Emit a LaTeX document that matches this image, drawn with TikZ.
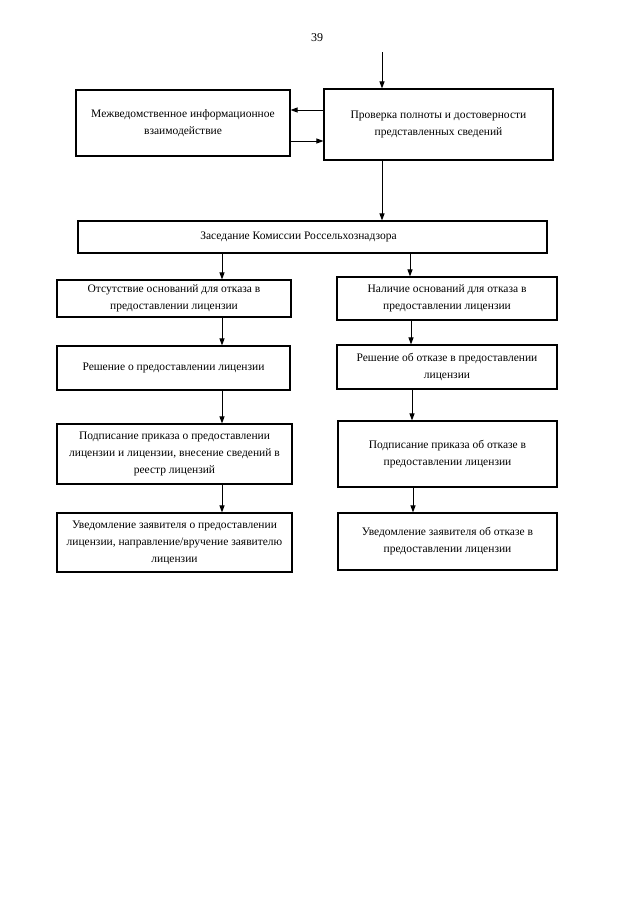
\documentclass[tikz,border=0pt]{standalone}
\usepackage{fontspec}
\setmainfont{Liberation Serif}
\usetikzlibrary{arrows.meta}
\begin{document}
\begin{tikzpicture}[x=1pt,y=-1pt,
  box/.style={draw, line width=1.1pt, align=center, inner sep=0pt, font=\fontsize{11.5}{17}\selectfont},
  arr/.style={-{Triangle[length=7pt,width=5pt]}, line width=1pt}]
\useasboundingbox (0,0) rectangle (640,905);
\fill[white] (0,0) rectangle (640,905);
\node (pg) at (317,38) {\fontsize{12}{14}\selectfont 39};
\node[box, minimum width=214pt, minimum height=66pt] (A) at (183,123) {Межведомственное информационное\\взаимодействие};
\node[box, minimum width=229pt, minimum height=71pt] (B) at (438.5,124.5) {Проверка полноты и достоверности\\представленных сведений};
\node[box, minimum width=469pt, minimum height=32pt] (C) at (312.5,237) {Заседание Комиссии Россельхознадзора\hspace*{28pt}};
\node[box, minimum width=234pt, minimum height=37pt] (D) at (174,298.5) {Отсутствие оснований для отказа в\\предоставлении лицензии};
\node[box, minimum width=220pt, minimum height=43pt] (E) at (447,298.5) {Наличие оснований для отказа в\\предоставлении лицензии};
\node[box, minimum width=233pt, minimum height=44pt] (F) at (173.5,368) {Решение о предоставлении лицензии};
\node[box, minimum width=220pt, minimum height=44pt] (G) at (447,367) {Решение об отказе в предоставлении\\лицензии};
\node[box, minimum width=235pt, minimum height=60pt] (H) at (174.5,454) {Подписание приказа о предоставлении\\лицензии и лицензии, внесение сведений в\\реестр лицензий};
\node[box, minimum width=219pt, minimum height=66pt] (I) at (447.5,454) {Подписание приказа об отказе в\\предоставлении лицензии};
\node[box, minimum width=235pt, minimum height=59pt] (J) at (174.5,542.5) {Уведомление заявителя о предоставлении\\лицензии, направление/вручение заявителю\\лицензии};
\node[box, minimum width=219pt, minimum height=57pt] (K) at (447.5,541.5) {Уведомление заявителя об отказе в\\предоставлении лицензии};
\coordinate (in) at (382,52);
\draw[arr] (in) -- (in |- B.north);
\draw[arr] (B.west |- 0,110) -- (A.east |- 0,110);
\draw[arr] (A.east |- 0,141) -- (B.west |- 0,141);
\draw[arr] (B.south -| 382,0) -- (C.north -| 382,0);
\draw[arr] (C.south -| 222,0) -- (D.north -| 222,0);
\draw[arr] (C.south -| 410,0) -- (E.north -| 410,0);
\draw[arr] (D.south -| 222,0) -- (F.north -| 222,0);
\draw[arr] (E.south -| 411,0) -- (G.north -| 411,0);
\draw[arr] (F.south -| 222,0) -- (H.north -| 222,0);
\draw[arr] (G.south -| 412,0) -- (I.north -| 412,0);
\draw[arr] (H.south -| 222,0) -- (J.north -| 222,0);
\draw[arr] (I.south -| 413,0) -- (K.north -| 413,0);
\end{tikzpicture}
\end{document}
